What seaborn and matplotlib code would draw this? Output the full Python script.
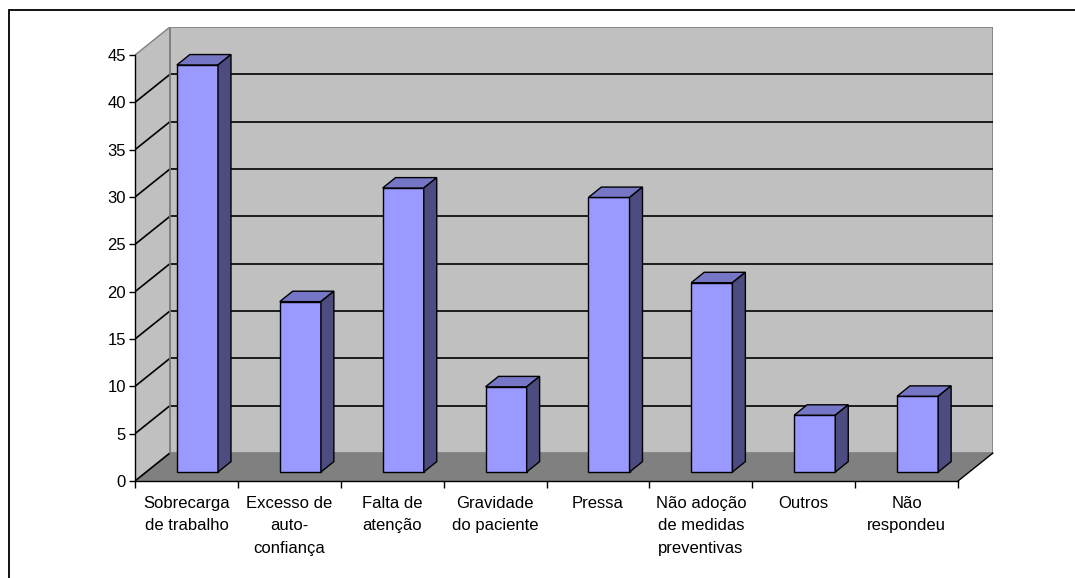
import matplotlib
matplotlib.use("Agg")
import matplotlib.pyplot as plt
from matplotlib.patches import Polygon, Rectangle
from matplotlib.transforms import Affine2D
import numpy as np
import pandas as pd
import seaborn as sns

categories = [
    "Sobrecarga\nde trabalho",
    "Excesso de\nauto-\nconfiança",
    "Falta de\natenção",
    "Gravidade\ndo paciente",
    "Pressa",
    "Não adoção\nde medidas\npreventivas",
    "Outros",
    "Não\nrespondeu",
]
values = [43, 18, 30, 9, 29, 20, 6, 8]
y_ticks = [0, 5, 10, 15, 20, 25, 30, 35, 40, 45]

sns.set_theme(style="white")
plt.rcParams["font.family"] = ["Liberation Sans", "DejaVu Sans"]

W, H = 1075, 578
fig = plt.figure(figsize=(W / 100, H / 100), dpi=100)
fig.patch.set_facecolor("white")

# plot region (front axis origin to back-wall top right), in pixels
left, right, bottom, top = 135, 993, 481, 27
ax = fig.add_axes([left / W, 1 - bottom / H, (right - left) / W, (bottom - top) / H])
ax.patch.set_visible(False)

n = len(categories)
ymax = y_ticks[-1]
DX, DY = 0.34, 2.96          # depth of the walls / floor (data units)
BX, BY = 0.107, 0.95         # offset of the bar front faces into the depth
BDX, BDY = 0.126, 1.10       # depth of each bar

FRONT = "#9999FF"
TOP = "#7676C6"
SIDE = "#4C4C80"
WALL = "#C0C0C0"
FLOOR = "#808080"
EDGE = "#808080"

df = pd.DataFrame({"motivo": categories, "n": values})
sns.barplot(data=df, x="motivo", y="n", color=FRONT, saturation=1, width=0.4,
            edgecolor="black", linewidth=1, ax=ax, zorder=3)
bars = list(ax.patches)

ax.set_xlim(-0.5, n - 0.5 + DX)
ax.set_ylim(0, ymax + DY)

# walls and floor
x0, x1 = -0.5, n - 0.5
ax.add_patch(Polygon([(x0, 0), (x0, ymax), (x0 + DX, ymax + DY), (x0 + DX, DY)],
                     closed=True, facecolor=WALL, edgecolor=EDGE, lw=1, zorder=0))
ax.add_patch(Rectangle((x0 + DX, DY), n, ymax, facecolor=WALL, edgecolor=EDGE,
                       lw=1.2, zorder=0))
ax.add_patch(Polygon([(x0, 0), (x1, 0), (x1 + DX, DY), (x0 + DX, DY)],
                     closed=True, facecolor=FLOOR, edgecolor="none", zorder=0.5))

# gridlines on the back wall and on the side wall
for v in y_ticks[1:-1]:
    ax.plot([x0 + DX, x1 + DX], [v + DY, v + DY], color="black", lw=1.2, zorder=1)
for v in y_ticks[:-1]:
    ax.plot([x0, x0 + DX], [v, v + DY], color="black", lw=1.2, zorder=1)
ax.plot([x0 + DX, x0 + DX], [DY, ymax + DY], color=EDGE, lw=1.2, zorder=1)
ax.plot([x0 + DX, x1 + DX], [DY, DY], color=EDGE, lw=1, zorder=1)
ax.plot([x1, x1 + DX], [0, DY], color="black", lw=1, zorder=1, clip_on=False)

# extrude the bars
shift = Affine2D().translate(BX, BY) + ax.transData
for b in bars:
    bx, w, h = b.get_x(), b.get_width(), b.get_height()
    b.set_transform(shift)
    b.set_clip_on(False)
    ax.add_patch(Polygon([(bx, h), (bx + w, h), (bx + w + BDX, h + BDY), (bx + BDX, h + BDY)],
                         closed=True, facecolor=TOP, edgecolor="black", lw=1,
                         transform=shift, zorder=3, clip_on=False))
    ax.add_patch(Polygon([(bx + w, 0), (bx + w, h), (bx + w + BDX, h + BDY), (bx + w + BDX, BDY)],
                         closed=True, facecolor=SIDE, edgecolor="black", lw=1,
                         transform=shift, zorder=3, clip_on=False))

# axes lines and ticks
for s in ("top", "right"):
    ax.spines[s].set_visible(False)
for s in ("left", "bottom"):
    ax.spines[s].set_color("black")
    ax.spines[s].set_linewidth(1)
ax.spines["left"].set_bounds(0, ymax)
ax.spines["bottom"].set_bounds(x0, x1)

ax.set_yticks(y_ticks)
ax.set_yticklabels([str(t) for t in y_ticks], fontsize=12)
ax.set_xticks(range(n))
ax.set_xticklabels(categories, fontsize=12, linespacing=1.6)
ax.set_xticks(np.arange(x0, x1 + 0.01, 1), minor=True)
ax.tick_params(axis="y", which="major", left=True, direction="out", length=4.5,
               width=1, color="black", pad=2, labelcolor="black")
ax.tick_params(axis="x", which="major", bottom=True, length=0, pad=11, labelcolor="black")
ax.tick_params(axis="x", which="minor", bottom=True, direction="out", length=5,
               width=1, color="black")
ax.set_xlabel("")
ax.set_ylabel("")

# outer frame of the chart area
fig.add_artist(Rectangle((9 / W, -0.1), 1.2, 1 - 9.5 / H + 0.1, transform=fig.transFigure,
                         fill=False, edgecolor="black", lw=1.3))

fig.savefig("out.png", dpi=100)
